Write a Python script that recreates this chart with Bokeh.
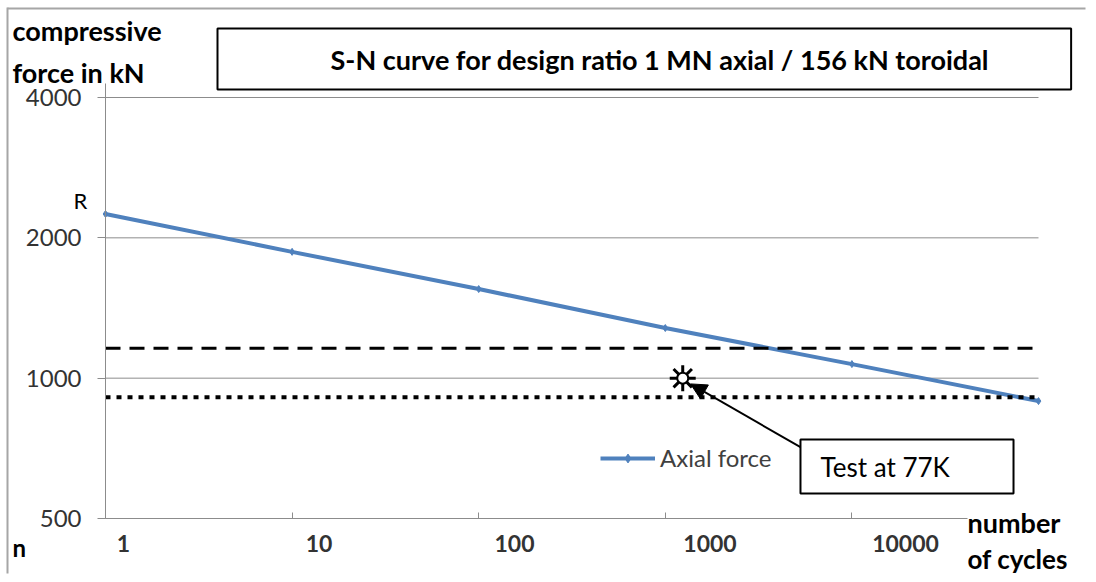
import math
from bokeh.plotting import figure
from bokeh.models import (FixedTicker, NumeralTickFormatter, CustomJSTickFormatter, Arrow,
                          NormalHead, BoxAnnotation, Label, Legend, LegendItem, LogAxis,
                          Range1d, LogScale)
from bokeh.embed import file_html
from bokeh.resources import INLINE

# ---------------- data ----------------
cycles = [1, 10, 100, 1000, 10000, 100000]
axial_force = [2250, 1866, 1553, 1281, 1072, 893]
series_name = "Axial force"

x_tick_labels = [1, 10, 100, 1000, 10000]
y_ticks = [500, 1000, 2000, 4000]

dashed_level = 1159
dotted_level = 910

test_cycles = [1240]
test_force = [1000]
test_text = "Test at 77K"

title_text = "S-N curve for design ratio 1 MN axial / 156 kN toroidal"
y_title_lines = ["compressive", "force in kN"]
x_title_lines = ["number", "of cycles"]
n_text = "n"
r_text = "R"

# ---------------- layout / style ----------------
FONT = "Lato"
BLUE = "#4F81BD"
GRID = "#8c8c8c"
W, H = 1088, 576
# pixel positions of the plotting area inside the canvas
PX_LEFT, PX_RIGHT, PX_TOP, PX_BOTTOM = 105, 1038, 97, 518
# pixel positions of the first / last x tick label
PX_LAB_FIRST, PX_LAB_LAST = 123, 905

# the frame fills the whole canvas; ranges are widened so the data area sits at the pixels above
dec_px = (PX_RIGHT - PX_LEFT) / math.log10(cycles[-1] / cycles[0])
x_start = cycles[0] * 10 ** (-PX_LEFT / dec_px)
x_end = cycles[-1] * 10 ** ((W - PX_RIGHT) / dec_px)
oct_px = (PX_BOTTOM - PX_TOP) / math.log2(y_ticks[-1] / y_ticks[0])
y_end = y_ticks[-1] * 2 ** (PX_TOP / oct_px)
y_start = y_ticks[0] / 2 ** ((H - PX_BOTTOM) / oct_px)
lab_dec_px = (PX_LAB_LAST - PX_LAB_FIRST) / math.log10(x_tick_labels[-1] / x_tick_labels[0])
lab_start = x_tick_labels[0] * 10 ** (-PX_LAB_FIRST / lab_dec_px)
lab_end = x_tick_labels[0] * 10 ** ((W - PX_LAB_FIRST) / lab_dec_px)

p = figure(width=W, height=H, x_axis_type="log", y_axis_type="log",
           x_range=(x_start, x_end), y_range=(y_start, y_end),
           output_backend="svg", toolbar_location=None,
           min_border=0, min_border_left=0, min_border_right=0, min_border_top=0,
           min_border_bottom=0)
p.outline_line_color = None
p.background_fill_color = "white"
p.border_fill_color = "white"
p.xgrid.visible = False
p.ygrid.visible = False

# chart-area border (only its top and left edges are in view)
BORDER = "#a6a6a6"
p.add_layout(BoxAnnotation(left=7, right=W - 3, top=7, bottom=9,
                           left_units="canvas", right_units="canvas",
                           top_units="canvas", bottom_units="canvas",
                           fill_color=BORDER, fill_alpha=1, line_alpha=0, level="underlay"))
p.add_layout(BoxAnnotation(left=6, right=8, top=7, bottom=H - 3,
                           left_units="canvas", right_units="canvas",
                           top_units="canvas", bottom_units="canvas",
                           fill_color=BORDER, fill_alpha=1, line_alpha=0, level="underlay"))

# horizontal gridlines at the y ticks, across the data area
p.segment(x0=[cycles[0]] * len(y_ticks), x1=[cycles[-1]] * len(y_ticks),
          y0=y_ticks, y1=y_ticks, line_color=GRID, line_width=1)

# y axis, pinned at the first category
p.yaxis.fixed_location = cycles[0]
p.yaxis.bounds = (y_ticks[0], y_ticks[-1] * 1.07)
p.yaxis.ticker = FixedTicker(ticks=y_ticks)
p.yaxis.formatter = NumeralTickFormatter(format="0")
p.yaxis.axis_line_color = GRID
p.yaxis.major_tick_line_color = GRID
p.yaxis.major_tick_out = 8
p.yaxis.major_tick_in = 0
p.yaxis.minor_tick_line_color = None
p.yaxis.major_label_standoff = 16
p.yaxis.major_label_text_font = FONT
p.yaxis.major_label_text_font_size = "24px"
p.yaxis.major_label_text_color = "#333333"

# x axis, pinned at the bottom value: tick marks at the data categories
p.xaxis.fixed_location = y_ticks[0]
p.xaxis.bounds = (cycles[0], cycles[-1])
p.xaxis.ticker = FixedTicker(ticks=cycles)
p.xaxis.formatter = CustomJSTickFormatter(code="return ''")
p.xaxis.axis_line_color = GRID
p.xaxis.major_tick_line_color = GRID
p.xaxis.major_tick_in = 6
p.xaxis.major_tick_out = 0
p.xaxis.minor_tick_line_color = None
p.xaxis.major_label_standoff = 0
p.xaxis.major_label_text_font_size = "1px"

# label axis (labels sit slightly right of the category ticks, as in the original)
p.extra_x_ranges = {"cyc_labels": Range1d(lab_start, lab_end)}
p.extra_x_scales = {"cyc_labels": LogScale()}
lab_axis = LogAxis(x_range_name="cyc_labels", fixed_location=y_ticks[0],
                   bounds=(x_tick_labels[0], x_tick_labels[-1]),
                   ticker=FixedTicker(ticks=x_tick_labels),
                   formatter=NumeralTickFormatter(format="0"),
                   axis_line_color=None, major_tick_line_color=None, minor_tick_line_color=None,
                   major_tick_in=0, major_tick_out=0,
                   major_label_standoff=16, major_label_text_font=FONT,
                   major_label_text_font_size="23px", major_label_text_font_style="bold",
                   major_label_text_color="#333333")
p.add_layout(lab_axis, "below")

# series
line_r = p.line(cycles, axial_force, line_color=BLUE, line_width=4)
mark_r = p.scatter(cycles, axial_force, marker="diamond", size=7, color=BLUE)

# reference levels
p.segment(x0=[cycles[0]], x1=[cycles[-1]], y0=[dashed_level], y1=[dashed_level],
          line_color="black", line_width=3, line_dash="15 9")
p.segment(x0=[cycles[0]], x1=[cycles[-1]], y0=[dotted_level], y1=[dotted_level],
          line_color="black", line_width=4, line_dash="5 6")

# test point
p.scatter(test_cycles, test_force, marker="asterisk", size=26, line_width=3, line_color="black")
p.scatter(test_cycles, test_force, marker="circle", size=11, line_width=2,
          line_color="black", fill_color="white")

# callout box + arrow
p.add_layout(BoxAnnotation(left=5302, right=73470, bottom=566, top=739,
                           fill_color="white", fill_alpha=1, line_color="black",
                           line_alpha=1, line_width=2))
p.add_layout(Label(x=6790, y=646, text=test_text, text_font=FONT, text_font_size="26px",
                   text_baseline="middle", text_color="black"))
p.add_layout(Arrow(end=NormalHead(size=16, fill_color="black", line_color="black"),
                   x_start=5302, y_start=711, x_end=1365, y_end=972,
                   line_color="black", line_width=2))

# legend
legend = Legend(items=[LegendItem(label=series_name, renderers=[line_r, mark_r])],
                location=(600, H - 472), padding=0, margin=0, spacing=0,
                glyph_width=55, glyph_height=22, label_height=22, label_standoff=5,
                label_text_font=FONT, label_text_font_size="24px", label_text_color="#404040",
                border_line_color=None, background_fill_alpha=0)
p.add_layout(legend, "center")

# ---- texts around the data area (canvas units, y from top) ----
outer = [
    Label(x=217, y=28, x_units="canvas", y_units="canvas", text=title_text,
          text_font=FONT, text_font_size="27px", text_font_style="bold",
          text_align="left", text_baseline="top", text_color="black",
          padding=(113, 82, 14, 14), border_line_color="black", border_line_width=2,
          background_fill_color="white"),
    Label(x=12, y=30, x_units="canvas", y_units="canvas", text=y_title_lines[0],
          text_font=FONT, text_font_size="27px", text_font_style="bold",
          text_baseline="middle", text_color="black"),
    Label(x=12, y=72, x_units="canvas", y_units="canvas", text=y_title_lines[1],
          text_font=FONT, text_font_size="27px", text_font_style="bold",
          text_baseline="middle", text_color="black"),
    Label(x=967, y=522, x_units="canvas", y_units="canvas", text=x_title_lines[0],
          text_font=FONT, text_font_size="27px", text_font_style="bold",
          text_baseline="middle", text_color="black", background_fill_color="white"),
    Label(x=967, y=558, x_units="canvas", y_units="canvas", text=x_title_lines[1],
          text_font=FONT, text_font_size="26px", text_font_style="bold",
          text_baseline="middle", text_color="black"),
    Label(x=12, y=547, x_units="canvas", y_units="canvas", text=n_text,
          text_font=FONT, text_font_size="24px", text_font_style="bold",
          text_baseline="middle", text_color="black"),
    Label(x=80, y=200, x_units="canvas", y_units="canvas", text=r_text,
          text_font=FONT, text_font_size="22px",
          text_align="center", text_baseline="middle", text_color="black"),
]
for lab in outer:
    p.add_layout(lab)

open("out.html", "w").write(file_html(p, INLINE))
